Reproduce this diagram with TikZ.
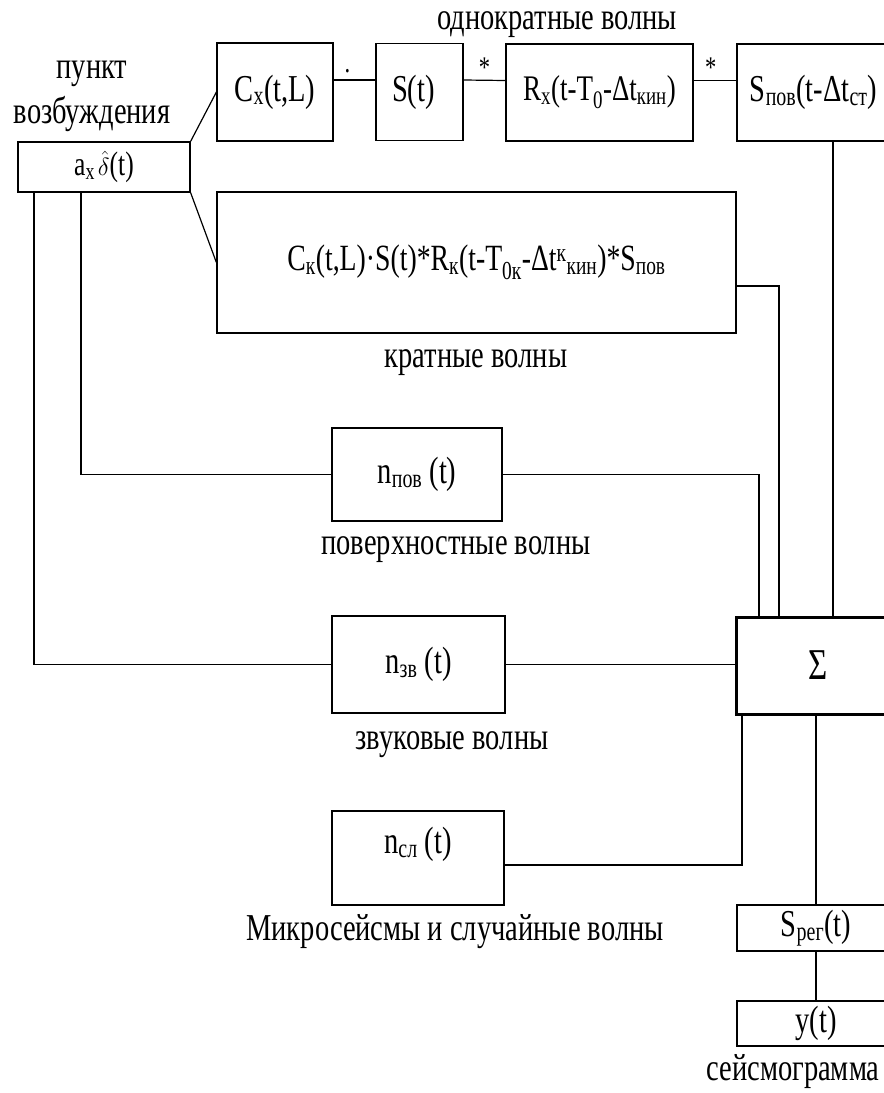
\documentclass[tikz,border=0pt]{standalone}
\usepackage{fontspec}
\setmainfont[FakeStretch=0.75]{Liberation Serif}
\usetikzlibrary{positioning}

\tikzset{
    blk/.style={draw, line width=1.2pt, inner sep=0pt, font=\fontsize{38}{45}\selectfont},
    lbl/.style={inner sep=0pt, font=\fontsize{38}{45}\selectfont},
    op/.style={inner sep=0pt, font=\fontsize{30}{34}\selectfont},
    wire/.style={line width=1.2pt},
}

\begin{document}
\begin{tikzpicture}[x=1pt, y=-1pt]
    \useasboundingbox (0,0) rectangle (884,1093);
    \clip (0,0) rectangle (884,1093);

    \node[blk, minimum width=172pt, minimum height=50pt, font=\fontsize{34}{40}\selectfont] (src) at (104,167) {a\textsubscript{x}\kern3pt$\hat{\delta}$(t)};
    \node[blk, minimum width=116pt, minimum height=98pt] (cx) at (275,92) {C\textsubscript{x}(t,L)};
    \node[blk, minimum width=87pt, minimum height=97pt] (st) at (419.5,92) {S(t)\hspace*{12pt}};
    \node[blk, minimum width=187pt, minimum height=97pt, font=\fontsize{36}{42}\selectfont] (rx) at (599.5,92.5) {R\textsubscript{x}(t-T\textsubscript{0}-Δt\textsubscript{кин})};
    \node[blk, minimum width=153pt, minimum height=97pt] (spov) at (813.5,92.5) {S\textsubscript{пов}(t-Δt\textsubscript{ст})};
    \node[blk, minimum width=519pt, minimum height=141pt, font=\fontsize{37}{42}\selectfont] (mult) at (476.5,262.5) {C\textsubscript{к}(t,L)·S(t)*R\textsubscript{к}(t-T\textsubscript{0к}-Δt\textsuperscript{к}\textsubscript{кин})*S\textsubscript{пов}};
    \node[blk, minimum width=170pt, minimum height=93pt] (npov) at (417,474.5) {n\textsubscript{пов} (t)};
    \node[blk, minimum width=173pt, minimum height=97pt] (nzv) at (418.5,664.5) {n\textsubscript{зв} (t)};
    \node[blk, line width=3pt, minimum width=164pt, minimum height=97pt, font=\fontsize{44}{50}\selectfont] (sum) at (818,665.5) {Σ};
    \node[blk, minimum width=172pt, minimum height=94pt, align=center] (nsl) at (418,858) {n\textsubscript{сл} (t)\\[-24pt]\strut};
    \node[blk, minimum width=158pt, minimum height=46pt] (sreg) at (816,928) {S\textsubscript{рег}(t)};
    \node[blk, minimum width=158pt, minimum height=45pt] (yt) at (816,1023.5) {y(t)};

    \node[lbl] (l1) at (557,25) {однократные волны};
    \node[lbl, align=center] (l2) at (92,96) {пункт\\возбуждения};
    \node[lbl] (l3) at (476,363) {кратные волны};
    \node[lbl] (l4) at (456,550) {поверхностные волны};
    \node[lbl] (l5) at (452,745) {звуковые волны};
    \node[lbl] (l6) at (455,932) {Микросейсмы и случайные волны};
    \node[lbl] (l7) at (793,1072) {сейсмограмма};

    \draw[wire] (src.north east) -- (cx.west);
    \draw[wire] (src.south east) -- (mult.west);
    \draw[wire] ([yshift=12pt]cx.east) -- node[op, pos=0.33, above=6pt] (op1) {.} ([yshift=12pt]st.west);
    \draw[wire] ([yshift=12pt]st.east) -- node[op, above=2pt] (op2) {*} ([yshift=12pt]rx.west);
    \draw[wire] ([yshift=12pt]rx.east) -- node[op, pos=0.4, above=2pt] (op3) {*} ([yshift=12pt]spov.west);
    \draw[wire] ([xshift=19.5pt]spov.south) -- ([xshift=19.5pt]spov.south |- sum.north);
    \draw[wire] ([yshift=-23.5pt]mult.east) -| ([xshift=-39pt]sum.north);
    \draw[wire] (npov.east) -| ([xshift=-59pt]sum.north);
    \draw[wire] (nzv.east) -- (nzv.east -| sum.west);
    \draw[wire] ([xshift=-70pt]src.south) |- (nzv.west);
    \draw[wire] ([xshift=-23pt]src.south) |- (npov.west);
    \draw[wire] ([yshift=-7pt]nsl.east) -| ([xshift=-76pt]sum.south);
    \draw[wire] (sreg.north |- sum.south) -- (sreg.north);
    \draw[wire] (sreg.south) -- (yt.north);
\end{tikzpicture}
\end{document}
